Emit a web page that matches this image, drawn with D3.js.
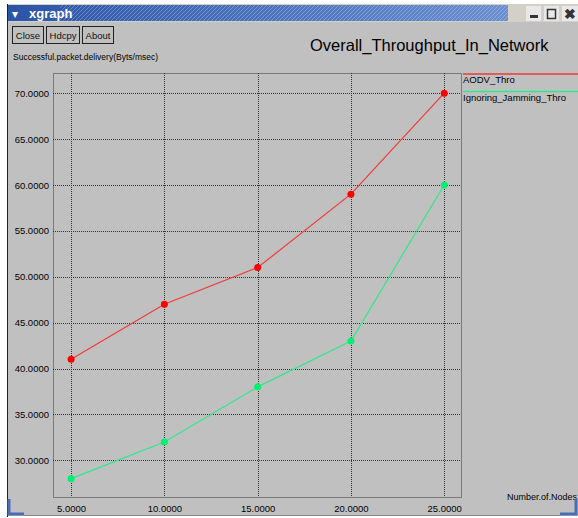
<!DOCTYPE html>
<html>
<head>
<meta charset="utf-8">
<script src="https://cdn.jsdelivr.net/npm/d3@7"></script>
<style>
  body { margin: 0; background: #fff; }
  svg { display: block; font-family: "Liberation Sans", Arial, sans-serif; }
</style>
</head>
<body>
<svg></svg>
<script>
const nodes = [5, 10, 15, 20, 25];
const aodvThro = [41, 47, 51, 59, 70];
const ignoringJammingThro = [28, 32, 38, 43, 60];
const xTicks = [5, 10, 15, 20, 25];
const yTicks = [30, 35, 40, 45, 50, 55, 60, 65, 70];
const seriesNames = ['AODV_Thro', 'Ignoring_Jamming_Thro'];
const seriesColors = ['#f23a3a', '#2ee88a'];
const dotColors = ['#ff0000', '#00f070'];

const dimensions = { width: 578, height: 518 };
const plot = { left: 53, right: 461, top: 73, bottom: 497 };

const svg = d3.select('svg').attr('width', dimensions.width).attr('height', dimensions.height);

// window frame
svg.append('rect').attr('x', 8).attr('y', 22).attr('width', 570).attr('height', 494).attr('fill', '#c0c0c0');
svg.append('line').attr('x1', 7.5).attr('x2', 7.5).attr('y1', 4).attr('y2', 517).attr('stroke', '#222');

// title bar gradient
const defs = svg.append('defs');
const grad = defs.append('linearGradient').attr('id', 'tb');
grad.append('stop').attr('offset', '0%').attr('stop-color', '#2b55a8');
grad.append('stop').attr('offset', '100%').attr('stop-color', '#6a8fd0');
const hatch = defs.append('pattern').attr('id', 'hatch').attr('width', 4).attr('height', 4)
  .attr('patternUnits', 'userSpaceOnUse');
hatch.append('path').attr('d', 'M0,4 L4,0').attr('stroke', '#ffffff').attr('stroke-opacity', 0.25).attr('stroke-width', 1);

svg.append('rect').attr('x', 8).attr('y', 4).attr('width', 570).attr('height', 18).attr('fill', '#d4d0c8');
svg.append('rect').attr('x', 8).attr('y', 5).attr('width', 500).attr('height', 16).attr('fill', 'url(#tb)');
svg.append('rect').attr('x', 60).attr('y', 5).attr('width', 448).attr('height', 16).attr('fill', 'url(#hatch)');
svg.append('text').attr('x', 12).attr('y', 18).attr('font-size', 12).attr('fill', '#fff').text('\u25BE');
svg.append('text').attr('x', 29).attr('y', 18).attr('font-size', 13).attr('font-weight', 'bold').attr('fill', '#fff').text('xgraph');

// window buttons
const wb = svg.append('g');
wb.append('rect').attr('x', 526).attr('y', 6).attr('width', 15).attr('height', 15).attr('fill', '#e8e8e8');
wb.append('rect').attr('x', 530).attr('y', 15).attr('width', 8).attr('height', 3).attr('fill', '#333');
wb.append('rect').attr('x', 544).attr('y', 6).attr('width', 15).attr('height', 15).attr('fill', '#e8e8e8');
wb.append('rect').attr('x', 547.5).attr('y', 9.5).attr('width', 8).attr('height', 9).attr('fill', 'none').attr('stroke', '#333').attr('stroke-width', 1.5);
wb.append('rect').attr('x', 562).attr('y', 6).attr('width', 16).attr('height', 15).attr('fill', '#e8e8e8');
wb.append('text').attr('x', 564).attr('y', 19).attr('font-size', 14).attr('font-weight', 'bold').attr('fill', '#333').text('\u2716');

// xgraph buttons
const buttons = [['Close', 12, 31], ['Hdcpy', 46, 33], ['About', 82, 31]];
buttons.forEach(([label, bx, bw]) => {
  svg.append('rect').attr('x', bx + 0.5).attr('y', 26.5).attr('width', bw).attr('height', 17)
    .attr('fill', '#c0c0c0').attr('stroke', '#222');
  svg.append('text').attr('x', bx + bw / 2 + 0.5).attr('y', 39).attr('text-anchor', 'middle')
    .attr('font-size', 9.5).attr('fill', '#111').text(label);
});

svg.append('text').attr('x', 310).attr('y', 51).attr('font-size', 16.5).attr('fill', '#000')
  .text('Overall_Throughput_In_Network');
svg.append('text').attr('x', 13).attr('y', 60).attr('font-size', 8.5).attr('fill', '#000')
  .text('Successful.packet.delivery(Byts/msec)');
svg.append('text').attr('x', 577).attr('y', 500).attr('text-anchor', 'end').attr('font-size', 9).attr('fill', '#000')
  .text('Number.of.Nodes');

// scales
const x = d3.scaleLinear().domain([4.03, 25.9]).range([plot.left, plot.right]);
const y = d3.scaleLinear().domain([26.0, 72.2]).range([plot.bottom, plot.top]);

const grid = svg.append('g').attr('stroke', '#333').attr('stroke-width', 1).attr('stroke-dasharray', '1,1');
grid.append('rect').attr('x', plot.left + 0.5).attr('y', plot.top + 0.5)
  .attr('width', plot.right - plot.left).attr('height', plot.bottom - plot.top).attr('fill', 'none');
grid.selectAll('.vg').data(xTicks).join('line')
  .attr('x1', d => Math.round(x(d)) + 0.5).attr('x2', d => Math.round(x(d)) + 0.5)
  .attr('y1', plot.top).attr('y2', plot.bottom);
grid.selectAll('.hg').data(yTicks).join('line')
  .attr('y1', d => Math.round(y(d)) + 0.5).attr('y2', d => Math.round(y(d)) + 0.5)
  .attr('x1', plot.left).attr('x2', plot.right);

// axes labels
const xAxis = d3.axisBottom(x).tickValues(xTicks).tickSize(0).tickFormat(d3.format('.4f'));
const gx = svg.append('g').attr('transform', `translate(0,${plot.bottom + 5})`).call(xAxis);
gx.select('.domain').remove();
gx.selectAll('text').attr('font-size', 9.5).attr('fill', '#000').attr('font-family', '"Liberation Sans", Arial, sans-serif');

const yAxis = d3.axisLeft(y).tickValues(yTicks).tickSize(0).tickFormat(d3.format('.4f'));
const gy = svg.append('g').attr('transform', `translate(${plot.left - 1},0)`).call(yAxis);
gy.select('.domain').remove();
gy.selectAll('text').attr('font-size', 9.5).attr('fill', '#000').attr('font-family', '"Liberation Sans", Arial, sans-serif');

// series
const series = [aodvThro, ignoringJammingThro];
const line = d3.line().x(d => x(d[0])).y(d => y(d[1]));
series.forEach((vals, i) => {
  const pts = nodes.map((n, j) => [n, vals[j]]);
  svg.append('path').datum(pts).attr('d', line).attr('fill', 'none')
    .attr('stroke', seriesColors[i]).attr('stroke-width', 1.2);
  svg.append('g').selectAll('circle').data(pts).join('circle')
    .attr('cx', d => x(d[0])).attr('cy', d => y(d[1])).attr('r', 3.5).attr('fill', dotColors[i]);
});

// legend
seriesNames.forEach((name, i) => {
  const ly = 74 + i * 17.5;
  svg.append('line').attr('x1', 463).attr('x2', 578).attr('y1', ly).attr('y2', ly)
    .attr('stroke', seriesColors[i]).attr('stroke-width', 1.5);
  svg.append('text').attr('x', 463).attr('y', ly + 9).attr('font-size', 9.5).attr('fill', '#000').text(name);
});

// bottom frame corners
const corner = svg.append('g').attr('fill', 'none').attr('stroke', '#4a6cb5').attr('stroke-width', 3);
corner.append('path').attr('d', 'M9,499 L9,514 L24,514');
corner.append('path').attr('d', 'M560,514 L576,514 L576,499');
svg.append('line').attr('x1', 24).attr('x2', 560).attr('y1', 515.5).attr('y2', 515.5).attr('stroke', '#888');
</script>
</body>
</html>
